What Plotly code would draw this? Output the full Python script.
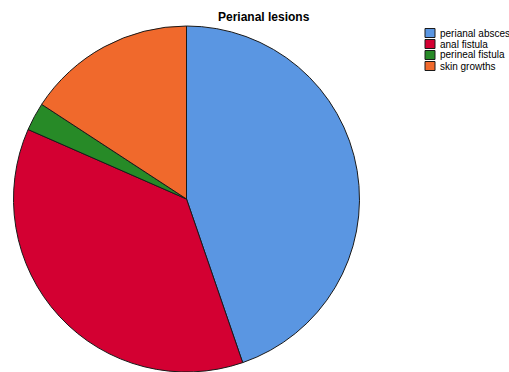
import plotly.graph_objects as go

categories = ["perianal abscess", "anal fistula", "perineal fistula", "skin growths"]
counts = [17, 14, 1, 6]
colors = ["#5A96E2", "#D30032", "#278A27", "#F0692C"]
title_text = "Perianal lesions"

W, H = 509, 372

fig = go.Figure()
fig.add_trace(go.Pie(
    labels=categories,
    values=counts,
    sort=False,
    direction="clockwise",
    rotation=0,
    textinfo="none",
    hoverinfo="label+value+percent",
    marker=dict(colors=colors, line=dict(color="#1a1a1a", width=1)),
    domain=dict(x=[13.5 / W, 359.5 / W], y=[0, 346 / H]),
    showlegend=False,
))

shapes = []
annotations = []
lx0, sw = 425, 10
for i, (cat, col) in enumerate(zip(categories, colors)):
    yc = 33 + 11 * i
    shapes.append(dict(
        type="rect", xref="paper", yref="paper",
        x0=lx0 / W, x1=(lx0 + sw) / W,
        y0=1 - (yc - 4.5) / H, y1=1 - (yc + 4.5) / H,
        fillcolor=col, line=dict(color="#1a1a1a", width=1),
    ))
    annotations.append(dict(
        text=cat, xref="paper", yref="paper",
        x=(lx0 + sw + 3) / W, y=1 - yc / H,
        xanchor="left", yanchor="middle", showarrow=False,
        font=dict(family="Liberation Sans, Arial", size=10, color="#000"),
    ))

annotations.append(dict(
    text="<b>" + title_text + "</b>", xref="paper", yref="paper",
    x=264 / W, y=1 - 17 / H, xanchor="center", yanchor="middle",
    showarrow=False,
    font=dict(family="Liberation Sans, Arial", size=12, color="#000"),
))

fig.update_layout(
    width=W, height=H,
    margin=dict(l=0, r=0, t=0, b=0),
    paper_bgcolor="white", plot_bgcolor="white",
    shapes=shapes, annotations=annotations,
)

fig.write_html("out.html")
